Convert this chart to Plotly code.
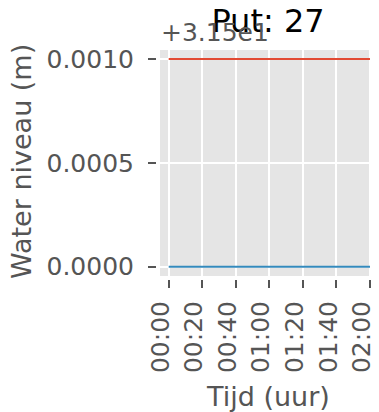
import plotly.graph_objects as go
import pandas as pd

# ---- data ----
tijd = ["2000-01-01 00:00", "2000-01-01 00:10", "2000-01-01 00:20", "2000-01-01 00:30",
        "2000-01-01 00:40", "2000-01-01 00:50", "2000-01-01 01:00", "2000-01-01 01:10",
        "2000-01-01 01:20", "2000-01-01 01:30", "2000-01-01 01:40", "2000-01-01 01:50",
        "2000-01-01 02:00"]
niveau_rood = [31.501, 31.501, 31.501, 31.501, 31.501, 31.501, 31.501,
               31.501, 31.501, 31.501, 31.501, 31.501, 31.501]
niveau_blauw = [31.5, 31.5, 31.5, 31.5, 31.5, 31.5, 31.5,
                31.5, 31.5, 31.5, 31.5, 31.5, 31.5]
x_ticks = ["2000-01-01 00:00", "2000-01-01 00:20", "2000-01-01 00:40", "2000-01-01 01:00",
           "2000-01-01 01:20", "2000-01-01 01:40", "2000-01-01 02:00"]
y_offset = 31.5
y_tick_offsets = [0.0, 0.0005, 0.0010]
offset_label = "+3.15e1"
title = "Put: 27"
x_label = "Tijd (uur)"
y_label = "Water niveau (m)"

# ---- layout geometry (page body has an 8px margin) ----
OFF = 8
W, H = 379 - OFF, 412 - OFF
ML, MR, MT, MB = 157 - OFF, 0, 50 - OFF, 133
PW, PH = W - ML - MR, H - MT - MB

def px_x(px):
    return (px - OFF - ML) / PW

def px_y(py):
    return (H - MB - (py - OFF)) / PH

t0 = pd.Timestamp(tijd[0])
x_range = [(t0 - pd.Timedelta(minutes=6.97)).strftime("%Y-%m-%d %H:%M:%S.%f"),
           (t0 + pd.Timedelta(minutes=125.37)).strftime("%Y-%m-%d %H:%M:%S.%f")]
y_range = [y_offset - 0.0000592, y_offset + 0.0010433]

GRAY = "#555555"
FONT = "DejaVu Sans"

fig = go.Figure()
fig.add_trace(go.Scatter(x=tijd, y=niveau_rood, mode="lines",
                         line=dict(color="#E24A33", width=2), showlegend=False))
fig.add_trace(go.Scatter(x=tijd, y=niveau_blauw, mode="lines",
                         line=dict(color="#348ABD", width=2), showlegend=False))

fig.update_layout(
    width=W, height=H, autosize=False,
    margin=dict(l=ML, r=MR, t=MT, b=MB, pad=0),
    paper_bgcolor="white", plot_bgcolor="rgba(0,0,0,0)",
    font=dict(family=FONT, color=GRAY, size=25),
    title=dict(text=title, x=0.5, xref="paper", xanchor="center",
               y=1 - (21 - OFF) / H, yref="container", yanchor="middle",
               font=dict(family=FONT, size=32, color="black")),
    shapes=[dict(type="rect", xref="paper", yref="paper",
                 x0=px_x(160), x1=px_x(378.5), y0=px_y(276), y1=1,
                 fillcolor="#E5E5E5", line=dict(width=0), layer="below")],
    annotations=[
        dict(text=offset_label, xref="paper", yref="paper", x=px_x(159), y=px_y(32),
             xanchor="left", yanchor="middle", showarrow=False,
             font=dict(family=FONT, size=25, color=GRAY)),
        dict(text=x_label, xref="paper", yref="paper", x=px_x(268), y=px_y(396),
             xanchor="center", yanchor="middle", showarrow=False,
             font=dict(family=FONT, size=27, color=GRAY)),
        dict(text=y_label, xref="paper", yref="paper", x=px_x(21), y=px_y(162),
             xanchor="center", yanchor="middle", showarrow=False, textangle=-90,
             font=dict(family=FONT, size=27, color=GRAY)),
    ],
)

fig.update_xaxes(
    type="date", range=x_range, tickvals=x_ticks, tickformat="%H:%M", tickangle=-90,
    ticks="outside", ticklen=8, tickwidth=2, tickcolor=GRAY,
    tickfont=dict(family=FONT, size=25, color=GRAY), ticklabelstandoff=3,
    ticklabelshift=-8, ticklabeloverflow="allow",
    showgrid=True, gridcolor="white", gridwidth=2,
    showline=False, zeroline=False, automargin=False,
)
fig.update_yaxes(
    range=y_range, tickvals=[y_offset + v for v in y_tick_offsets],
    ticktext=[f"{v:.4f}" for v in y_tick_offsets],
    ticks="outside", ticklen=8, tickwidth=2, tickcolor=GRAY,
    tickfont=dict(family=FONT, size=25, color=GRAY), ticklabelstandoff=9,
    showgrid=True, gridcolor="white", gridwidth=2,
    showline=False, zeroline=False, automargin=False,
)

fig.write_html("out.html")
